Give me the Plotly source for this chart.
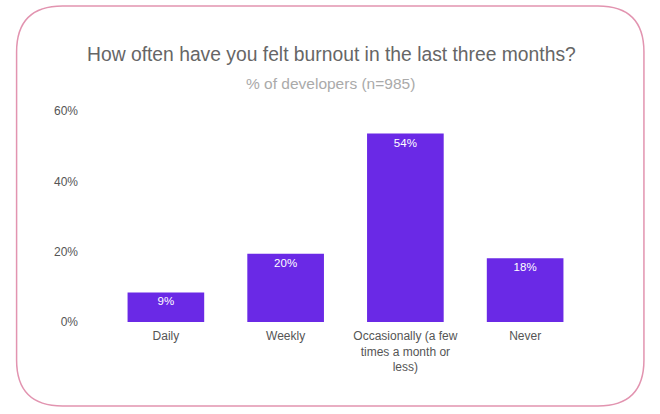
import plotly.graph_objects as go

categories = ["Daily", "Weekly", "Occasionally (a few<br>times a month or<br>less)", "Never"]
values = [8.4, 19.4, 53.6, 18.1]
value_labels = ["9%", "20%", "54%", "18%"]
y_ticks = [0, 20, 40, 60]
y_tick_labels = ["0%", "20%", "40%", "60%"]

W, H = 660, 414
ML, MR, MT, MB = 105.5, 75, 111, 92
pw = W - ML - MR
ph = H - MT - MB

def px(x):
    return (x - ML) / pw

def py(y):
    return (H - MB - y) / ph

# rounded border, pixel coords converted to paper
x0, x1, y0, y1, r = 16, 644, 6, 406, 46
pts = [
    f"M {px(x0 + r)},{py(y0)}",
    f"L {px(x1 - r)},{py(y0)}",
    f"Q {px(x1)},{py(y0)} {px(x1)},{py(y0 + r)}",
    f"L {px(x1)},{py(y1 - r)}",
    f"Q {px(x1)},{py(y1)} {px(x1 - r)},{py(y1)}",
    f"L {px(x0 + r)},{py(y1)}",
    f"Q {px(x0)},{py(y1)} {px(x0)},{py(y1 - r)}",
    f"L {px(x0)},{py(y0 + r)}",
    f"Q {px(x0)},{py(y0)} {px(x0 + r)},{py(y0)}",
    "Z",
]

fig = go.Figure()
fig.add_trace(go.Bar(
    x=categories, y=values, text=value_labels,
    textposition="inside", insidetextanchor="end",
    textfont=dict(color="white", size=11.5, family="Arial"),
    marker=dict(color="#6a29e6", line=dict(width=0)),
    width=0.64, hoverinfo="skip",
))

fig.update_layout(
    width=W, height=H,
    margin=dict(l=ML, r=MR, t=MT, b=MB),
    paper_bgcolor="white", plot_bgcolor="white",
    showlegend=False,
    font=dict(family="Arial", color="#555555", size=12),
    xaxis=dict(showgrid=False, showline=False, zeroline=False, ticks="",
               ticklabelstandoff=5,
               tickfont=dict(size=12, color="#555555")),
    yaxis=dict(range=[0, 60], tickvals=y_ticks, ticktext=y_tick_labels,
               showgrid=False, showline=False, zeroline=False, ticks="",
               ticklabelstandoff=27, tickfont=dict(size=12, color="#555555")),
    shapes=[dict(type="path", xref="paper", yref="paper", path=" ".join(pts),
                 line=dict(color="#e294b0", width=1.5), layer="below")],
    annotations=[
        dict(text="How often have you felt burnout in the last three months?",
             xref="paper", yref="paper", x=px(331), y=py(54), showarrow=False,
             xanchor="center", yanchor="middle",
             font=dict(size=19.3, color="#666666", family="Arial")),
        dict(text="% of developers (n=985)",
             xref="paper", yref="paper", x=px(330), y=py(83), showarrow=False,
             xanchor="center", yanchor="middle",
             font=dict(size=15.5, color="#aaaaaa", family="Arial")),
    ],
)

fig.write_html("out.html")
